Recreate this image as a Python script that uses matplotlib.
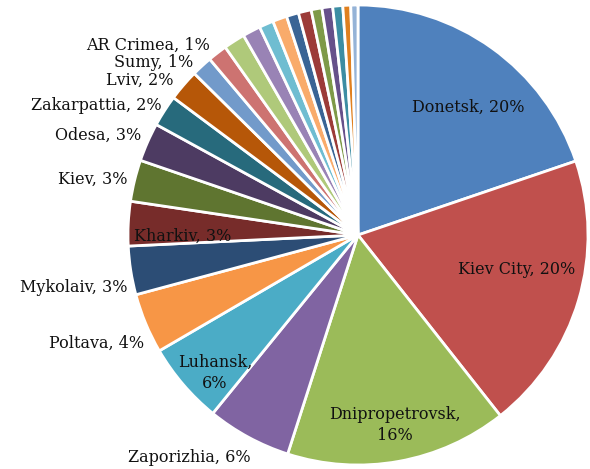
import matplotlib
matplotlib.use("Agg")
import matplotlib.pyplot as plt
import numpy as np

# Data (share of total, %), clockwise from 12 o'clock
regions = ["Donetsk", "Kiev City", "Dnipropetrovsk", "Zaporizhia", "Luhansk",
           "Poltava", "Mykolaiv", "Kharkiv", "Kiev", "Odesa", "Zakarpattia",
           "Lviv", "Sumy", "AR Crimea"]
values = [19.7, 19.5, 15.5, 5.9, 5.7, 4.2, 3.4, 3.1, 2.9, 2.7, 2.2, 2.2, 1.45, 1.35]
# remaining smaller regions (unlabeled in the chart)
other_values = [1.5, 1.25, 1.0, 1.0, 0.85, 0.9, 0.75, 0.75, 0.7, 0.55, 0.5]

colors = ["#4F81BD", "#C0504D", "#9BBB59", "#8064A2", "#4BACC6", "#F79646",
          "#2C4D75", "#772C2A", "#5F7530", "#4D3B62", "#276A7C", "#B65708",
          "#729ACA", "#CD7371", "#AFC97A", "#9983B5", "#6FBDD1", "#F9AB6B",
          "#3A6495", "#9C3B38", "#7E9A48", "#66508A", "#3C8DA3", "#E0801F",
          "#95B3D7"]

all_values = values + other_values
total = sum(all_values)

W, H = 590, 469
fig = plt.figure(figsize=(W / 100, H / 100), dpi=100)
cx, cy, R = 358, 235, 230
ax = fig.add_axes([(cx - R) / W, (H - cy - R) / H, 2 * R / W, 2 * R / H])

ax.pie(all_values, colors=colors[:len(all_values)], startangle=90,
       counterclock=False, radius=1,
       wedgeprops=dict(edgecolor="white", linewidth=2))
ax.set_xlim(-1, 1)
ax.set_ylim(-1, 1)
ax.set_aspect("equal")
ax.axis("off")

# label positions in figure pixels (layout only)
label_pos = {
    "Donetsk": (468, 107, False),
    "Kiev City": (517, 270, False),
    "Dnipropetrovsk": (395, 425, True),
    "Zaporizhia": (189, 457, False),
    "Luhansk": (215, 373, True),
    "Poltava": (97, 343, False),
    "Mykolaiv": (74, 287, False),
    "Kharkiv": (183, 236, False),
    "Kiev": (93, 179, False),
    "Odesa": (98, 135, False),
    "Zakarpattia": (96, 105, False),
    "Lviv": (140, 80, False),
    "Sumy": (154, 62, False),
    "AR Crimea": (148, 45, False),
}

for name, v in zip(regions, values):
    pct = int(round(v / total * 100))
    px, py, wrap = label_pos[name]
    sep = ",\n" if wrap else ", "
    txt = f"{name}{sep}{pct}%"
    x = (px - cx) / R
    y = (cy - py) / R
    ax.text(x, y, txt, ha="center", va="center", fontsize=11.5,
            family="DejaVu Serif", color="#111111", linespacing=1.3,
            clip_on=False)

fig.savefig("out.png", dpi=100)
